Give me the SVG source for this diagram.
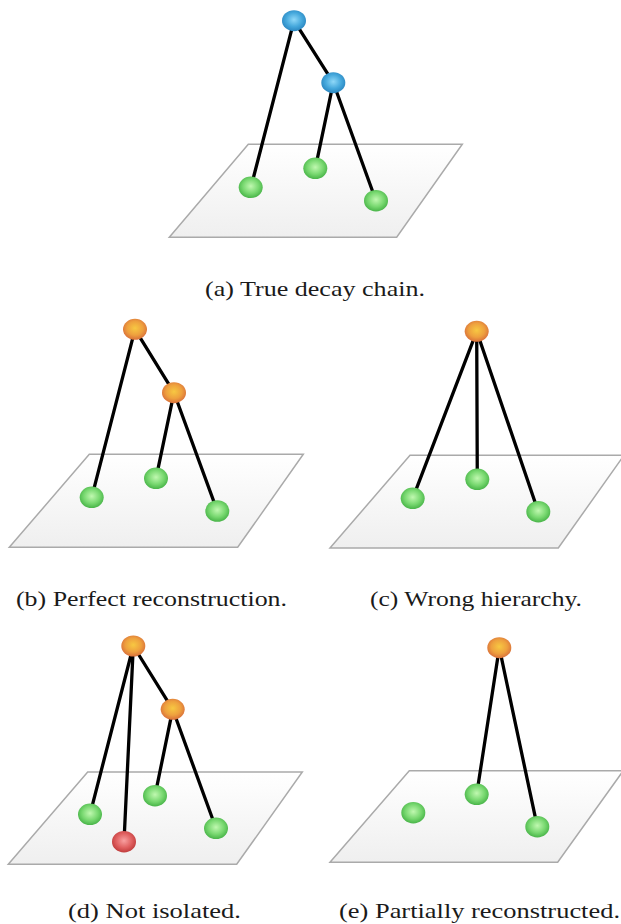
<svg xmlns="http://www.w3.org/2000/svg" width="621" height="924" viewBox="0 0 621 924">
<style>
.plane{fill:url(#gPlane);stroke:#aaaaaa;stroke-width:1.5}
.edge{stroke:#000;stroke-width:3.3;fill:none;stroke-linecap:round}
.cap{font-family:"Liberation Serif","Times New Roman",serif;font-size:21px;fill:#1a1a1a}
.blue{fill:url(#gBlue)}
.orange{fill:url(#gOrange)}
.green{fill:url(#gGreen)}
.red{fill:url(#gRed)}
</style>
<defs>
<linearGradient id="gPlane" x1="0" y1="0" x2="0" y2="1">
<stop offset="0" stop-color="#ffffff"/><stop offset="1" stop-color="#efefef"/>
</linearGradient>
<radialGradient id="gBlue" cx="0.5" cy="0.45" r="0.55">
<stop offset="0" stop-color="#8fd8f8"/><stop offset="0.6" stop-color="#45a8dc"/><stop offset="1" stop-color="#2a86c0"/>
</radialGradient>
<radialGradient id="gOrange" cx="0.5" cy="0.45" r="0.55">
<stop offset="0" stop-color="#f7c842"/><stop offset="0.6" stop-color="#eea03e"/><stop offset="1" stop-color="#d9703a"/>
</radialGradient>
<radialGradient id="gGreen" cx="0.5" cy="0.45" r="0.55">
<stop offset="0" stop-color="#c0f8b0"/><stop offset="0.6" stop-color="#78d870"/><stop offset="1" stop-color="#48b448"/>
</radialGradient>
<radialGradient id="gRed" cx="0.5" cy="0.45" r="0.55">
<stop offset="0" stop-color="#f8a0a0"/><stop offset="0.6" stop-color="#e06060"/><stop offset="1" stop-color="#c03c3c"/>
</radialGradient>
</defs>
<rect width="621" height="924" fill="#ffffff"/>

<g id="planes">
<polygon class="plane" points="248.3,144.3 462.3,144.3 396.7,237.3 169.3,237.3"/>
<polygon class="plane" points="89.3,454.3 303.3,454.3 237.7,547.3 9.3,547.3"/>
<polygon class="plane" points="410,455.3 624,455.3 558.3,548 330,548"/>
<polygon class="plane" points="87.7,772 302.3,772 236.7,864.3 8.3,864.3"/>
<polygon class="plane" points="409.3,770.7 623.3,770.7 557.7,862.3 330,862.3"/>
</g>

<g id="connectors">
<line class="edge" x1="294" y1="20.7" x2="251" y2="187"/>
<line class="edge" x1="294" y1="20.7" x2="333.3" y2="82.7"/>
<line class="edge" x1="333.3" y1="82.7" x2="315.3" y2="168.3"/>
<line class="edge" x1="333.3" y1="82.7" x2="376" y2="200.7"/>

<line class="edge" x1="135" y1="329.3" x2="91.7" y2="497.3"/>
<line class="edge" x1="135" y1="329.3" x2="174" y2="392.7"/>
<line class="edge" x1="174" y1="392.7" x2="156" y2="478.3"/>
<line class="edge" x1="174" y1="392.7" x2="217.3" y2="511"/>

<line class="edge" x1="476.7" y1="331.3" x2="412.7" y2="498.3"/>
<line class="edge" x1="476.7" y1="331.3" x2="477.3" y2="479.3"/>
<line class="edge" x1="476.7" y1="331.3" x2="538.3" y2="511.7"/>

<line class="edge" x1="133.3" y1="646" x2="90" y2="814.3"/>
<line class="edge" x1="133.3" y1="646" x2="124" y2="841.7"/>
<line class="edge" x1="133.3" y1="646" x2="172.7" y2="709.3"/>
<line class="edge" x1="172.7" y1="709.3" x2="155" y2="795.7"/>
<line class="edge" x1="172.7" y1="709.3" x2="216" y2="828.3"/>

<line class="edge" x1="499.3" y1="647.7" x2="476.7" y2="794.3"/>
<line class="edge" x1="499.3" y1="647.7" x2="537.3" y2="826.7"/>
</g>

<g id="a-top"><ellipse class="blue" cx="294" cy="20.7" rx="12" ry="10.5"/></g>
<g id="a-mid"><ellipse class="blue" cx="333.3" cy="82.7" rx="12" ry="10.5"/></g>
<g id="a-g1"><ellipse class="green" cx="250.7" cy="187.3" rx="12" ry="10.8"/></g>
<g id="a-g2"><ellipse class="green" cx="315.3" cy="168.3" rx="12" ry="10.8"/></g>
<g id="a-g3"><ellipse class="green" cx="376" cy="200.7" rx="12" ry="10.8"/></g>

<g id="b-top"><ellipse class="orange" cx="135" cy="329.3" rx="12" ry="10.5"/></g>
<g id="b-mid"><ellipse class="orange" cx="174" cy="392.7" rx="12" ry="10.5"/></g>
<g id="b-g1"><ellipse class="green" cx="91.7" cy="497.3" rx="12" ry="10.8"/></g>
<g id="b-g2"><ellipse class="green" cx="156" cy="478.3" rx="12" ry="10.8"/></g>
<g id="b-g3"><ellipse class="green" cx="217.3" cy="511" rx="12" ry="10.8"/></g>

<g id="c-top"><ellipse class="orange" cx="476.7" cy="331.3" rx="12" ry="10.5"/></g>
<g id="c-g1"><ellipse class="green" cx="412.7" cy="498.3" rx="12" ry="10.8"/></g>
<g id="c-g2"><ellipse class="green" cx="477.3" cy="479.3" rx="12" ry="10.8"/></g>
<g id="c-g3"><ellipse class="green" cx="538.3" cy="511.7" rx="12" ry="10.8"/></g>

<g id="d-top"><ellipse class="orange" cx="133.3" cy="646" rx="12" ry="10.5"/></g>
<g id="d-mid"><ellipse class="orange" cx="172.7" cy="709.3" rx="12" ry="10.5"/></g>
<g id="d-g1"><ellipse class="green" cx="90" cy="814.3" rx="12" ry="10.8"/></g>
<g id="d-g2"><ellipse class="green" cx="155" cy="795.7" rx="12" ry="10.8"/></g>
<g id="d-g3"><ellipse class="green" cx="216" cy="828.3" rx="12" ry="10.8"/></g>
<g id="d-red"><ellipse class="red" cx="124" cy="841.7" rx="12" ry="10.8"/></g>

<g id="e-top"><ellipse class="orange" cx="499.3" cy="647.7" rx="12" ry="10.5"/></g>
<g id="e-g1"><ellipse class="green" cx="413.3" cy="812.7" rx="12" ry="10.8"/></g>
<g id="e-g2"><ellipse class="green" cx="476.7" cy="794.3" rx="12" ry="10.8"/></g>
<g id="e-g3"><ellipse class="green" cx="537.3" cy="826.7" rx="12" ry="10.8"/></g>

<g id="captions">
<text class="cap" x="205" y="296" textLength="220" lengthAdjust="spacingAndGlyphs">(a) True decay chain.</text>
<text class="cap" x="16" y="606" textLength="271" lengthAdjust="spacingAndGlyphs">(b) Perfect reconstruction.</text>
<text class="cap" x="370" y="606" textLength="212" lengthAdjust="spacingAndGlyphs">(c) Wrong hierarchy.</text>
<text class="cap" x="68" y="918" textLength="173" lengthAdjust="spacingAndGlyphs">(d) Not isolated.</text>
<text class="cap" x="339" y="918" textLength="281" lengthAdjust="spacingAndGlyphs">(e) Partially reconstructed.</text>
</g>
</svg>
